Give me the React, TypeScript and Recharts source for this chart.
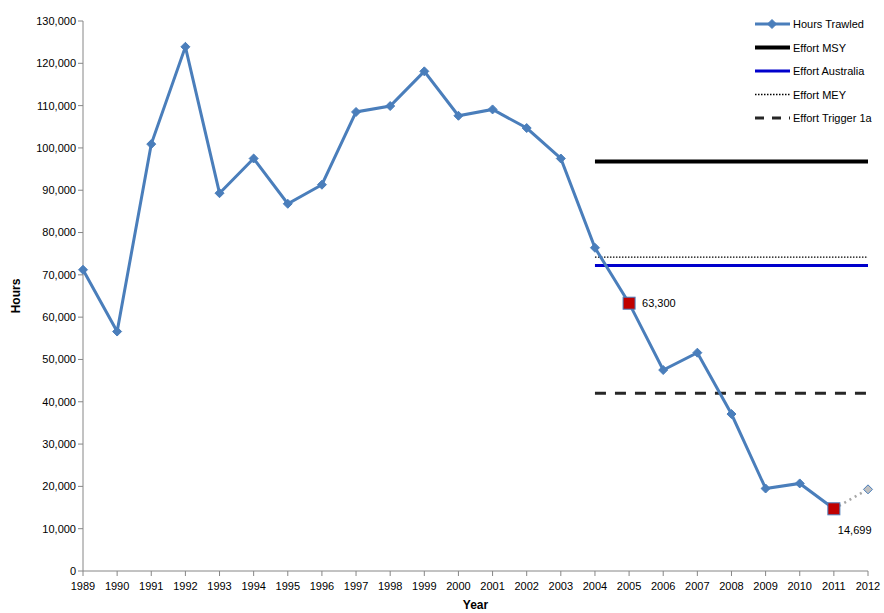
import React from 'react'
import { LineChart, Line, XAxis, YAxis, LabelList } from 'recharts'

const years = ['1989', '1990', '1991', '1992', '1993', '1994', '1995', '1996', '1997', '1998', '1999', '2000',
  '2001', '2002', '2003', '2004', '2005', '2006', '2007', '2008', '2009', '2010', '2011', '2012']
const hoursTrawled = [71200, 56600, 100900, 123900, 89300, 97500, 86800, 91300, 108500, 109900, 118100, 107600,
  109100, 104700, 97500, 76400, 63300, 47500, 51600, 37100, 19500, 20700, 14699, null]
const projected = [null, null, null, null, null, null, null, null, null, null, null, null,
  null, null, null, null, null, null, null, null, null, null, 14699, 19300]
const highlighted = [null, null, null, null, null, null, null, null, null, null, null, null,
  null, null, null, null, 63300, null, null, null, null, null, 14699, null]
const refStart = '2004'
const effortMSY = 96800
const effortAustralia = 72200
const effortMEY = 74200
const effortTrigger = 42000
const yTicks = [0, 10000, 20000, 30000, 40000, 50000, 60000, 70000, 80000, 90000, 100000, 110000, 120000, 130000]

const startIdx = years.indexOf(refStart)
const data = years.map((year, i) => ({
  year,
  hours: hoursTrawled[i],
  proj: projected[i],
  hi: highlighted[i],
  msy: i >= startIdx ? effortMSY : null,
  aus: i >= startIdx ? effortAustralia : null,
  mey: i >= startIdx ? effortMEY : null,
  trig: i >= startIdx ? effortTrigger : null,
}))

const BLUE = '#4a7ebb'
const font = 'Liberation Sans, Arial, sans-serif'

const Diamond = ({ cx, cy, fill, stroke }: any) => {
  if (cx == null || cy == null) return null
  const r = 4.5
  return <path d={`M${cx},${cy - r}L${cx + r},${cy}L${cx},${cy + r}L${cx - r},${cy}Z`} fill={fill} stroke={stroke} strokeWidth={1} />
}

const MainDot = (props: any) => {
  if (props.value == null) return <g key={props.key} />
  return <Diamond key={props.key} cx={props.cx} cy={props.cy} fill={BLUE} stroke={BLUE} />
}

const ProjDot = (props: any) => {
  if (props.index !== years.length - 1 || props.value == null) return <g key={props.key} />
  return <Diamond key={props.key} cx={props.cx} cy={props.cy} fill="#c0c0c0" stroke={BLUE} />
}

const SquareDot = (props: any) => {
  if (props.value == null) return <g key={props.key} />
  const s = 6
  return <rect key={props.key} x={props.cx - s} y={props.cy - s} width={2 * s} height={2 * s} fill="#c00000" stroke={BLUE} strokeWidth={1} />
}

const HiLabel = (props: any) => {
  const { x, y, value, index } = props
  if (value == null) return null
  const last = index === years.length - 2
  return (
    <text x={last ? x + 4 : x + 13} y={last ? y + 25 : y + 4} fontSize={11} fontFamily={font} fill="#000">
      {Number(value).toLocaleString('en-US')}
    </text>
  )
}

const legendItems = [
  { label: 'Hours Trawled', color: BLUE, width: 3, dash: undefined as string | undefined, marker: true },
  { label: 'Effort MSY', color: '#000', width: 4, dash: undefined, marker: false },
  { label: 'Effort Australia', color: '#0000cc', width: 3, dash: undefined, marker: false },
  { label: 'Effort MEY', color: '#000', width: 1.3, dash: '1.5 1.5', marker: false },
  { label: 'Effort Trigger 1a', color: '#262626', width: 3, dash: '9 8', marker: false },
]

const LegendBox = () => (
  <svg width={134} height={112} style={{ position: 'absolute', left: 753, top: 14 }}>
    {legendItems.map((it, i) => {
      const y = 10 + i * 23.5
      return (
        <g key={it.label}>
          <line x1={2} x2={37} y1={y} y2={y} stroke={it.color} strokeWidth={it.width} strokeDasharray={it.dash} />
          {it.marker && <Diamond cx={19} cy={y} fill={BLUE} stroke={BLUE} />}
          <text x={40} y={y + 4} fontSize={11} fontFamily={font} fill="#000">{it.label}</text>
        </g>
      )
    })}
  </svg>
)

export default function App() {
  return (
    <div style={{ position: 'absolute', left: 0, top: 0, width: 884, height: 613, background: '#fff' }}>
      <LineChart width={884} height={613} data={data} margin={{ top: 21, right: 16, bottom: 12, left: 0 }}>
        <XAxis
          dataKey="year"
          interval={0}
          height={30}
          tick={{ fontSize: 11, fontFamily: font, fill: '#000', dy: 4 }}
          tickLine={{ stroke: '#868686' }}
          axisLine={{ stroke: '#868686' }}
          tickSize={5}
          label={{ value: 'Year', position: 'insideBottom', offset: -8, style: { fontSize: 12, fontWeight: 'bold', fontFamily: font, fill: '#000' } }}
        />
        <YAxis
          domain={[0, 130000]}
          ticks={yTicks}
          width={83}
          interval={0}
          tickFormatter={(v: number) => v.toLocaleString('en-US')}
          tick={{ fontSize: 11, fontFamily: font, fill: '#000' }}
          tickLine={{ stroke: '#868686' }}
          axisLine={{ stroke: '#868686' }}
          tickSize={5}
          label={{ value: 'Hours', angle: -90, position: 'insideLeft', offset: 16, style: { fontSize: 12, fontWeight: 'bold', fontFamily: font, fill: '#000', textAnchor: 'middle' } }}
        />
        <Line dataKey="msy" stroke="#000" strokeWidth={4} dot={false} isAnimationActive={false} />
        <Line dataKey="mey" stroke="#000" strokeWidth={1.3} strokeDasharray="1.5 1.5" dot={false} isAnimationActive={false} />
        <Line dataKey="aus" stroke="#0000cc" strokeWidth={3} dot={false} isAnimationActive={false} />
        <Line dataKey="trig" stroke="#262626" strokeWidth={3} strokeDasharray="11 9" dot={false} isAnimationActive={false} />
        <Line dataKey="proj" stroke="#a6a6a6" strokeWidth={2.5} strokeDasharray="2 4" dot={ProjDot} isAnimationActive={false} />
        <Line dataKey="hours" stroke={BLUE} strokeWidth={3} dot={MainDot} isAnimationActive={false} />
        <Line dataKey="hi" stroke="none" dot={SquareDot} activeDot={false} isAnimationActive={false}>
          <LabelList dataKey="hi" content={HiLabel} />
        </Line>
      </LineChart>
      <LegendBox />
    </div>
  )
}
